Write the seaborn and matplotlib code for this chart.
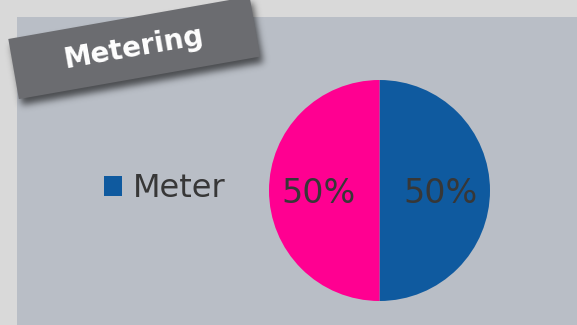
import numpy as np
import matplotlib
matplotlib.use("Agg")
import matplotlib.pyplot as plt
from matplotlib.patches import Rectangle, Polygon
import seaborn as sns

# Chart data
categories = ["Meter", "Other"]
shares = [50, 50]
slice_colors = ["#0f5a9f", "#ff0091"]
title_text = "Metering"

W, H, DPI = 577, 325, 100
TEXT_COLOR = "#373737"

sns.set_theme(style="white", rc={"savefig.facecolor": "#d9d9d9"})
plt.rcParams["font.family"] = ["DejaVu Sans"]
palette = sns.color_palette(slice_colors)

fig = plt.figure(figsize=(W / DPI, H / DPI), dpi=DPI, facecolor="#d9d9d9")

# Background layer in pixel coordinates (origin top-left)
bg = fig.add_axes([0, 0, 1, 1])
bg.set_xlim(0, W)
bg.set_ylim(H, 0)
bg.axis("off")
bg.add_patch(Rectangle((17, 17), W - 17, H - 17, facecolor="#b9bec6", edgecolor="none"))

# Rotated title banner geometry
ang = np.deg2rad(10)
u = np.array([np.cos(ang), -np.sin(ang)])
v = np.array([np.sin(ang), np.cos(ang)])
p0 = np.array([8.3, 39.0])
bw, bh = 245.0, 61.0
corners = [p0, p0 + bw * u, p0 + bw * u + bh * v, p0 + bh * v]

# Soft drop shadow under the banner
yy, xx = np.mgrid[0:H, 0:W] + 0.5
off = np.array([3.0, 6.0])
dx = xx - (p0[0] + off[0])
dy = yy - (p0[1] + off[1])
a = dx * u[0] + dy * u[1]
b = dx * v[0] + dy * v[1]
mask = ((a >= 0) & (a <= bw) & (b >= 0) & (b <= bh)).astype(float)
sigma = 3.5
k = np.arange(-12, 13)
kern = np.exp(-k ** 2 / (2 * sigma ** 2))
kern /= kern.sum()
mask = np.apply_along_axis(lambda r: np.convolve(r, kern, mode="same"), 1, mask)
mask = np.apply_along_axis(lambda c: np.convolve(c, kern, mode="same"), 0, mask)
shadow = np.zeros((H, W, 4))
shadow[..., 3] = mask * 0.6
bg.imshow(shadow, extent=(0, W, H, 0), interpolation="bilinear", zorder=2)

bg.add_patch(Polygon(corners, closed=True, facecolor="#6b6c70", edgecolor="none", zorder=3))
centre = p0 + bw / 2 * u + bh / 2 * v
bg.text(centre[0], centre[1], title_text, rotation=10, rotation_mode="anchor",
        ha="center", va="center", color="white", fontsize=20, fontweight="bold", zorder=4)

# Pie chart
cx, cy, r = 379.5, 190.5, 110.5
ax = fig.add_axes([(cx - r) / W, (H - cy - r) / H, 2 * r / W, 2 * r / H])
wedges, _, autotexts = ax.pie(
    shares, labels=None, colors=palette, startangle=90, counterclock=False,
    autopct="%d%%", pctdistance=0.55,
    wedgeprops=dict(linewidth=0),
    textprops=dict(color=TEXT_COLOR, fontsize=24),
)
for t in autotexts:
    t.set_verticalalignment("center_baseline")
ax.set_xlim(-1, 1)
ax.set_ylim(-1, 1)
ax.set_aspect("equal")
ax.axis("off")

leg = fig.legend(
    wedges[:1], categories[:1], loc="center left",
    bbox_to_anchor=(104 / W, 1 - 188.5 / H), frameon=False,
    fontsize=23, labelcolor=TEXT_COLOR, borderpad=0, borderaxespad=0,
    handlelength=0.57, handleheight=0.57, handletextpad=0.32,
)

fig.savefig("out.png", dpi=DPI, facecolor="#d9d9d9")
